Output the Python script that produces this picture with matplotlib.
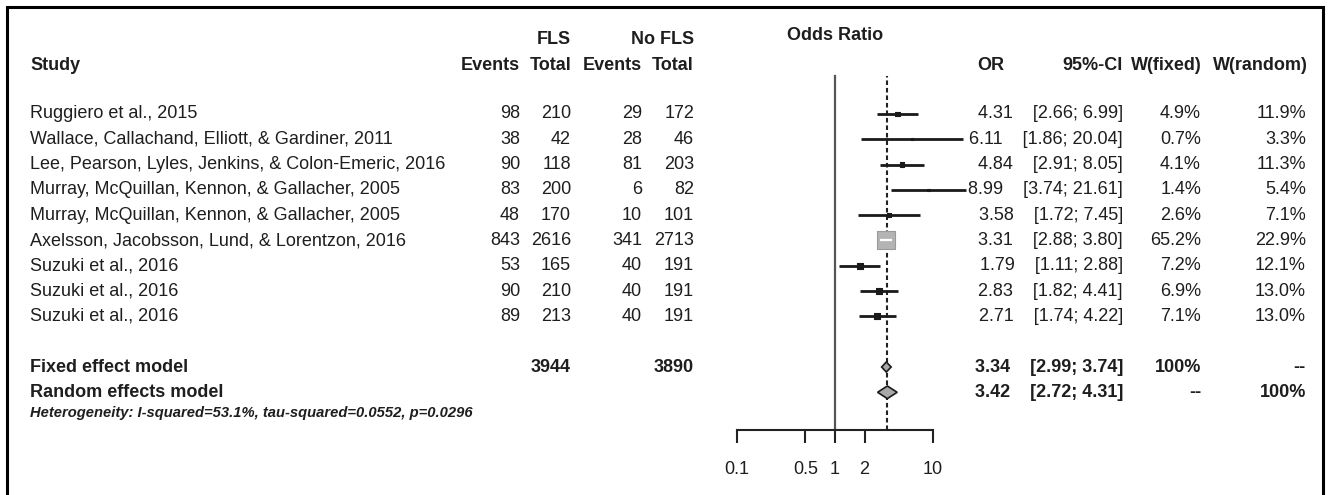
import numpy as np
import matplotlib
matplotlib.use('Agg')
import matplotlib.pyplot as plt
from matplotlib.ticker import FixedLocator, FixedFormatter, NullLocator

plt.rcParams['font.family'] = ['Liberation Sans', 'DejaVu Sans']

# ---------------------------------------------------------------------------
studies = [
    'Ruggiero et al., 2015',
    'Wallace, Callachand, Elliott, & Gardiner, 2011',
    'Lee, Pearson, Lyles, Jenkins, & Colon-Emeric, 2016',
    'Murray, McQuillan, Kennon, & Gallacher, 2005',
    'Murray, McQuillan, Kennon, & Gallacher, 2005',
    'Axelsson, Jacobsson, Lund, & Lorentzon, 2016',
    'Suzuki et al., 2016',
    'Suzuki et al., 2016',
    'Suzuki et al., 2016',
]
ev_fls   = [98, 38, 90, 83, 48, 843, 53, 90, 89]
n_fls    = [210, 42, 118, 200, 170, 2616, 165, 210, 213]
ev_nofls = [29, 28, 81, 6, 10, 341, 40, 40, 40]
n_nofls  = [172, 46, 203, 82, 101, 2713, 191, 191, 191]
or_est   = [4.31, 6.11, 4.84, 8.99, 3.58, 3.31, 1.79, 2.83, 2.71]
or_lo    = [2.66, 1.86, 2.91, 3.74, 1.72, 2.88, 1.11, 1.82, 1.74]
or_hi    = [6.99, 20.04, 8.05, 21.61, 7.45, 3.80, 2.88, 4.41, 4.22]
w_fixed  = [4.9, 0.7, 4.1, 1.4, 2.6, 65.2, 7.2, 6.9, 7.1]
w_random = [11.9, 3.3, 11.3, 5.4, 7.1, 22.9, 12.1, 13.0, 13.0]

pooled_labels = ['Fixed effect model', 'Random effects model']
pooled_est = [3.34, 3.42]
pooled_lo  = [2.99, 2.72]
pooled_hi  = [3.74, 4.31]
pooled_wf  = ['100%', '--']
pooled_wr  = ['--', '100%']
total_fls, total_nofls = 3944, 3890
het_text = 'Heterogeneity: I-squared=53.1%, tau-squared=0.0552, p=0.0296'

xticks = [0.1, 0.5, 1, 2, 10]
xtick_labels = ['0.1', '0.5', '1', '2', '10']

# ---------------------------------------------------------------------------
W, H = 1329, 495
FS = 13.0
TXT = '#1e1e1e'
ROW0, ROW_H = 114, 25.3


def ypx(r):
    return ROW0 + ROW_H * r


def or_ci(est, lo, hi):
    # OR and CI as one right-aligned string, like meta prints them
    return f'{est:.2f}    [{lo:.2f}; {hi:.2f}]'


fig = plt.figure(figsize=(W / 100, H / 100), dpi=100)
bg = fig.add_axes([0, 0, 1, 1])
bg.set_xlim(0, W)
bg.set_ylim(H, 0)
bg.axis('off')

# frame
bg.plot([7, 7, 1323, 1323], [H + 5, 7, 7, H + 5], color='black', lw=2.2,
        solid_joinstyle='miter')


def t(x, y, s, ha='left', bold=False, **kw):
    bg.text(x, y, s, ha=ha, va='center', fontsize=kw.pop('fs', FS),
            fontweight='bold' if bold else 'normal', color=TXT, **kw)


# headers
t(30, 66, 'Study', bold=True)
t(571, 40, 'FLS', ha='right', bold=True)
t(694, 40, 'No FLS', ha='right', bold=True)
t(520, 66, 'Events', ha='right', bold=True)
t(571, 66, 'Total', ha='right', bold=True)
t(642, 66, 'Events', ha='right', bold=True)
t(694, 66, 'Total', ha='right', bold=True)
t(835, 36, 'Odds Ratio', ha='center', bold=True)
t(977, 66, 'OR', bold=True)
t(1123, 66, '95%-CI', ha='right', bold=True)
t(1202, 66, 'W(fixed)', ha='right', bold=True)
t(1308, 66, 'W(random)', ha='right', bold=True)

# study rows
for i, name in enumerate(studies):
    y = ypx(i)
    t(30, y, name)
    t(520, y, str(ev_fls[i]), ha='right')
    t(571, y, str(n_fls[i]), ha='right')
    t(642, y, str(ev_nofls[i]), ha='right')
    t(694, y, str(n_nofls[i]), ha='right')
    t(1123, y, or_ci(or_est[i], or_lo[i], or_hi[i]), ha='right')
    t(1201, y, f'{w_fixed[i]:.1f}%', ha='right')
    t(1306, y, f'{w_random[i]:.1f}%', ha='right')

# pooled rows
pool_rows = [len(studies) + 1, len(studies) + 2]
for k, r in enumerate(pool_rows):
    y = ypx(r)
    t(30, y, pooled_labels[k], bold=True)
    t(1123, y, or_ci(pooled_est[k], pooled_lo[k], pooled_hi[k]),
      ha='right', bold=True)
    t(1201, y, pooled_wf[k], ha='right', bold=True)
    t(1306, y, pooled_wr[k], ha='right', bold=True)
t(571, ypx(pool_rows[0]), str(total_fls), ha='right', bold=True)
t(694, ypx(pool_rows[0]), str(total_nofls), ha='right', bold=True)
bg.text(30, ypx(pool_rows[1]) + 21, het_text, ha='left', va='center',
        fontsize=10.6, fontweight='bold', fontstyle='italic', color=TXT)

# ---------------------------------------------------------------------------
# forest panel
x0, x1 = 737, 933
ytop, ybot = 76, 430
fa = fig.add_axes([x0 / W, (H - ybot) / H, (x1 - x0) / W, (ybot - ytop) / H])
fa.set_xscale('log')
fa.set_xlim(0.1, 10)
fa.set_ylim((ybot - ROW0) / ROW_H, (ytop - ROW0) / ROW_H)
fa.patch.set_alpha(0)
for s in ['top', 'right', 'left']:
    fa.spines[s].set_visible(False)
fa.spines['bottom'].set_linewidth(1.5)
fa.spines['bottom'].set_color('#222222')
fa.yaxis.set_visible(False)
fa.xaxis.set_major_locator(FixedLocator(xticks))
fa.xaxis.set_major_formatter(FixedFormatter(xtick_labels))
fa.xaxis.set_minor_locator(NullLocator())
fa.tick_params(axis='x', direction='out', length=9, width=1.5,
               color='#222222', labelsize=FS, labelcolor=TXT, pad=13)

ylo, yhi = fa.get_ylim()
fa.plot([1, 1], [ylo, yhi], color='#555555', lw=1.6, clip_on=False)
fa.plot([pooled_est[1]] * 2, [ylo, yhi], color='#222222', lw=1.5,
        linestyle=(0, (2.2, 1.4)), clip_on=False)

rows = np.arange(len(studies))
w = np.asarray(w_fixed)
big = w > 50
for i in rows:
    if not big[i]:
        fa.plot([or_lo[i], or_hi[i]], [i, i], color='#1a1a1a', lw=2.0,
                solid_capstyle='butt', clip_on=False, zorder=3)
sizes = 170 * w / w.max()
fa.scatter(np.asarray(or_est)[big], rows[big], s=sizes[big], marker='s',
           color='#b4b4b4', edgecolor='#9a9a9a', lw=0.8, zorder=4)
fa.scatter(np.asarray(or_est)[~big], rows[~big], s=sizes[~big], marker='s',
           color='#1a1a1a', edgecolor='#1a1a1a', lw=0.8, zorder=4)
for i in rows[big]:
    fa.plot([or_lo[i], or_hi[i]], [i, i], color='white', lw=1.6,
            solid_capstyle='butt', zorder=5)

dh = [0.2, 0.25]
for k, r in enumerate(pool_rows):
    xs = [pooled_lo[k], pooled_est[k], pooled_hi[k], pooled_est[k], pooled_lo[k]]
    ys = [r, r - dh[k], r, r + dh[k], r]
    fa.fill(xs, ys, facecolor='#a8a8a8', edgecolor='#1a1a1a', lw=1.2, zorder=4)

fig.savefig('out.png', dpi=100)
